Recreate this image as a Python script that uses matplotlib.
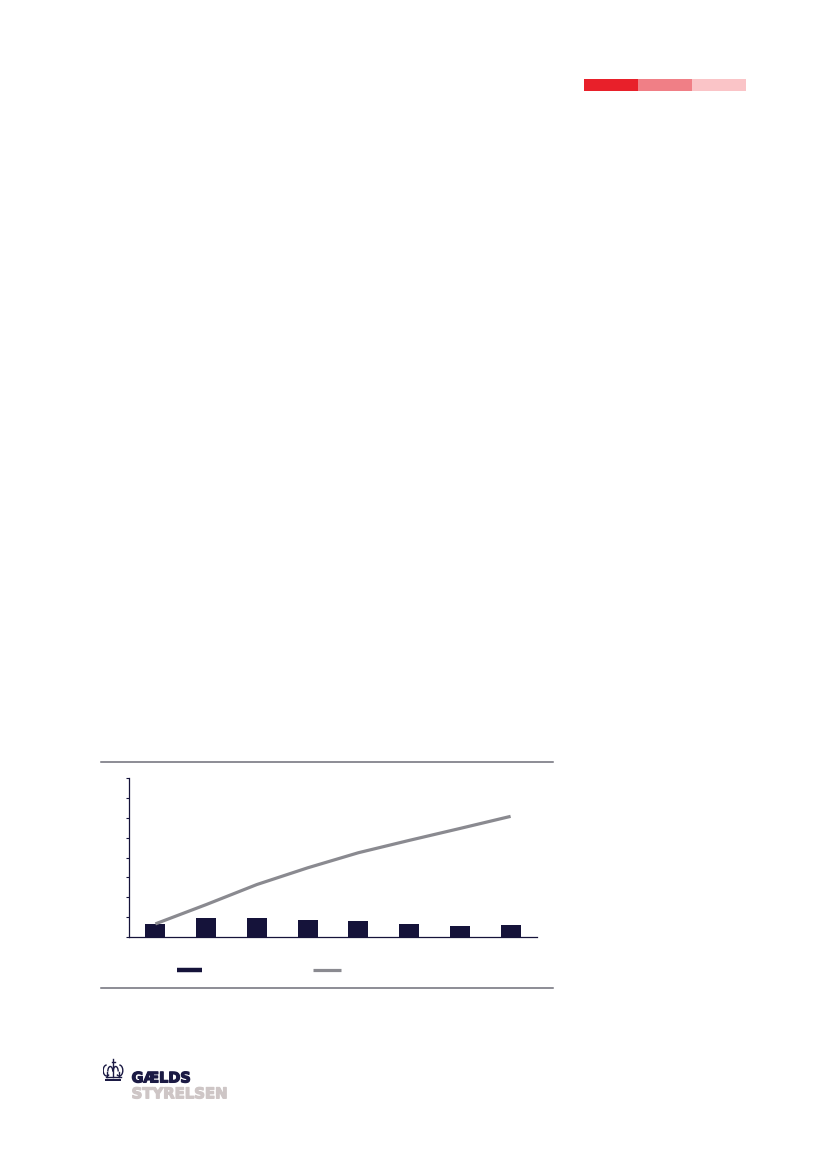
import matplotlib
matplotlib.use("Agg")
import matplotlib.pyplot as plt
from matplotlib.lines import Line2D
from matplotlib.patches import Rectangle, Arc
import matplotlib.patheffects as pe
import numpy as np

# data (one unit = one y tick)
categories = ["1", "2", "3", "4", "5", "6", "7", "8"]
bar_values = [0.67, 0.94, 0.94, 0.84, 0.79, 0.64, 0.57, 0.62]
line_values = [0.66, 1.63, 2.64, 3.48, 4.24, 4.86, 5.46, 6.07]
y_ticks = [0, 1, 2, 3, 4, 5, 6, 7, 8]

navy = "#15133a"
grey_line = "#8a8a90"
rule_grey = "#6e6e78"

W, H = 827, 1169
fig = plt.figure(figsize=(W / 100, H / 100), dpi=100)
fig.patch.set_facecolor("white")


def fx(px):
    return px / W


def fy(py):
    return 1 - py / H


# header colour strip
for x0, x1, c in [(583.5, 638.3, "#e8202a"), (638.3, 692.2, "#f07f86"), (692.2, 746.0, "#fac4c7")]:
    fig.add_artist(Rectangle((fx(x0), fy(90.7)), fx(x1) - fx(x0), fy(79.3) - fy(90.7),
                             transform=fig.transFigure, color=c, lw=0))

# rules around the chart
for yy in (761.7, 987.8):
    fig.add_artist(Line2D([fx(101), fx(553)], [fy(yy), fy(yy)], transform=fig.transFigure,
                          color=rule_grey, lw=1.1))

# chart
ax = fig.add_axes([fx(129), fy(937), fx(537) - fx(129), fy(778) - fy(937)])
x = np.arange(len(categories))
ax.bar(x, bar_values, width=0.39, color=navy, zorder=2)
ax.plot(x, line_values, color=grey_line, lw=2.3, zorder=3, solid_capstyle="butt")
ax.set_xlim(-0.52, len(categories) - 0.48)
ax.set_ylim(0, 8)
ax.set_yticks(y_ticks)
ax.set_yticklabels([])
ax.set_xticks([])
ax.tick_params(axis="y", direction="out", length=2.5, width=0.8, color=navy)
for s in ("top", "right"):
    ax.spines[s].set_visible(False)
for s in ("left", "bottom"):
    ax.spines[s].set_color(navy)
    ax.spines[s].set_linewidth(0.9)
ax.patch.set_alpha(0)

# legend swatches
fig.add_artist(Line2D([fx(176.7), fx(201.7)], [fy(969.8), fy(969.8)], transform=fig.transFigure,
                      color=navy, lw=3.2, solid_capstyle="butt"))
fig.add_artist(Line2D([fx(313), fx(340.7)], [fy(969.5), fy(969.5)], transform=fig.transFigure,
                      color=grey_line, lw=2.3, solid_capstyle="butt"))

# logo text
dark_logo = "#1b1a44"
light_logo = "#cec6c6"
fig.text(fx(131.6), fy(1082.4), "GÆLDS", fontsize=10.4, fontweight="bold", color=dark_logo,
         family="DejaVu Sans", ha="left", va="baseline",
         path_effects=[pe.withStroke(linewidth=0.9, foreground=dark_logo)])
fig.text(fx(131.6), fy(1098.3), "STYRELSEN", fontsize=10.7, fontweight="bold", color=light_logo,
         family="DejaVu Sans", ha="left", va="baseline",
         path_effects=[pe.withStroke(linewidth=0.9, foreground=light_logo)])

# small crown mark
cax = fig.add_axes([fx(102.5), fy(1081), fx(123.5) - fx(102.5), fy(1058) - fy(1081)])
cax.set_xlim(0, 21)
cax.set_ylim(0, 23)
cax.axis("off")
cc = dark_logo
cax.add_patch(Rectangle((2.5, 0.3), 16, 2.2, color=cc, lw=0))
cax.plot([3, 18], [4.5, 4.5], color=cc, lw=1.0)
# outer lobes
cax.add_patch(Arc((4.2, 10.5), 7, 11, theta1=90, theta2=300, color=cc, lw=1.0))
cax.add_patch(Arc((16.8, 10.5), 7, 11, theta1=240, theta2=90, color=cc, lw=1.0))
# inner arches
cax.add_patch(Arc((7.8, 9.5), 5, 10, theta1=0, theta2=180, color=cc, lw=1.0))
cax.add_patch(Arc((13.2, 9.5), 5, 10, theta1=0, theta2=180, color=cc, lw=1.0))
cax.plot([10.5, 10.5], [4.5, 14], color=cc, lw=1.0)
cax.plot([4.6, 4.6], [4.5, 9.5], color=cc, lw=1.0)
cax.plot([16.4, 16.4], [4.5, 9.5], color=cc, lw=1.0)
# cross on top
cax.plot([10.5, 10.5], [15, 22.5], color=cc, lw=1.0)
cax.plot([9, 12], [19.5, 19.5], color=cc, lw=1.0)

fig.savefig("out.png", dpi=100, facecolor="white")
